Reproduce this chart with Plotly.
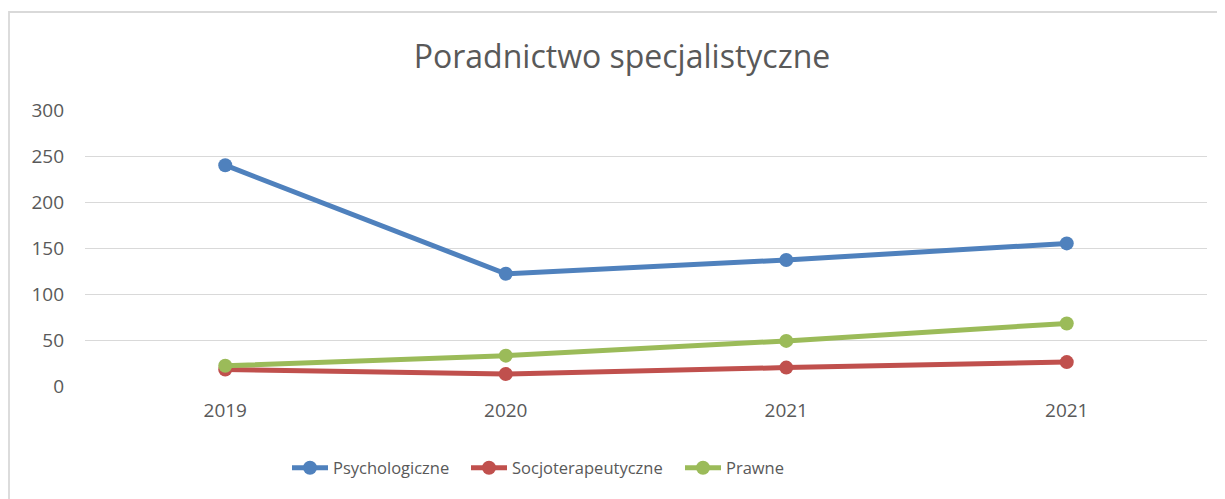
import plotly.graph_objects as go

categories = ["2019", "2020", "2021", "2021"]
psychologiczne = [240, 122, 137, 155]
socjoterapeutyczne = [18, 13, 20, 26]
prawne = [22, 33, 49, 68]

series = [
    ("Psychologiczne", psychologiczne, "#4F81BD"),
    ("Socjoterapeutyczne", socjoterapeutyczne, "#C0504D"),
    ("Prawne", prawne, "#9BBB59"),
]

xpos = list(range(len(categories)))
font_family = "Open Sans, Liberation Sans, sans-serif"
grey = "#595959"

# page body has an 8px margin; figure pixel = reference pixel - 8
OFF = 8
W, H = 1225 - OFF, 499 - OFF
L, R, T, B = 85 - OFF, 18, 110 - OFF, 113
pw = W - L - R
ph = H - T - B

def px2paper_x(px):
    return (px - OFF - L) / pw

def px2paper_y(py):
    return (H - B - (py - OFF)) / ph

legend_ids = ["legend", "legend2", "legend3"]
legend_left = [287, 466, 680]

fig = go.Figure()
for (name, vals, color), lid in zip(series, legend_ids):
    fig.add_trace(go.Scatter(
        x=xpos, y=vals, name=name, mode="lines+markers",
        line=dict(color=color, width=5),
        marker=dict(color=color, size=14),
        legend=lid,
    ))

fig.add_shape(type="rect", xref="paper", yref="paper",
              x0=px2paper_x(9), x1=px2paper_x(1260),
              y0=px2paper_y(540), y1=px2paper_y(12),
              line=dict(color="#D9D9D9", width=1.8), layer="below")

legend_cfg = {}
for lid, lx in zip(legend_ids, legend_left):
    legend_cfg[lid] = dict(orientation="h", x=px2paper_x(lx), xanchor="left",
                           y=px2paper_y(468), yanchor="middle",
                           font=dict(size=16.5, color=grey), itemwidth=36,
                           bgcolor="rgba(0,0,0,0)")

fig.update_layout(
    width=W, height=H,
    margin=dict(l=L, r=R, t=T, b=B),
    paper_bgcolor="white", plot_bgcolor="white",
    font=dict(family=font_family, color=grey, size=16),
    title=dict(text="Poradnictwo specjalistyczne", xref="container", x=(622 - OFF) / W,
               xanchor="center", y=1 - (57 - OFF) / H, yanchor="middle",
               font=dict(size=32, color=grey, family=font_family)),
    showlegend=True,
    xaxis=dict(tickmode="array", tickvals=xpos, ticktext=categories,
               range=[-0.5, len(categories) - 0.5], showgrid=False, zeroline=False,
               showline=False, ticks="", ticklabelstandoff=11,
               tickfont=dict(size=19, color=grey)),
    yaxis=dict(range=[0, 300], dtick=50, showgrid=True, gridcolor="#D9D9D9", gridwidth=1.3,
               zeroline=False, showline=False, ticks="", ticklabelstandoff=20,
               tickfont=dict(size=19, color=grey)),
    **legend_cfg,
)

fig.write_html("out.html")
